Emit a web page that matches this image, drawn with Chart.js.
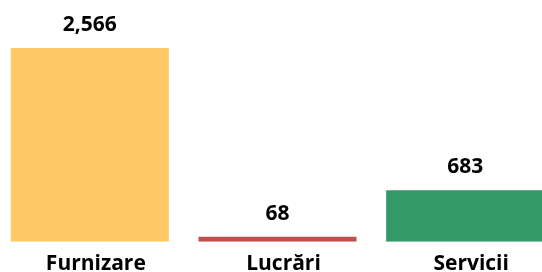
<!DOCTYPE html>
<html>
<head>
<meta charset="utf-8">
<script src="https://cdn.jsdelivr.net/npm/chart.js@4"></script>
<style>
html,body{margin:0;padding:0;background:#fff;overflow:hidden;width:542px;height:272px;}
#wrap{position:absolute;left:-4px;top:0;width:563px;height:287px;}
</style>
</head>
<body>
<div id="wrap"><canvas id="c"></canvas></div>
<script>
const categories = ["Furnizare", "Lucrări", "Servicii"];
const values = [2566, 68, 683];
const valueLabels = ["2,566", "68", "683"];
const colors = ["#FFC966", "#C0504D", "#339966"];

const FONT = "'Open Sans', sans-serif";

const valueLabelPlugin = {
  id: 'valueLabels',
  afterDatasetsDraw(chart) {
    const ctx = chart.ctx;
    const meta = chart.getDatasetMeta(0);
    ctx.save();
    ctx.font = "bold 21px " + FONT;
    ctx.fillStyle = "#000";
    ctx.textAlign = "center";
    ctx.textBaseline = "alphabetic";
    meta.data.forEach((bar, i) => {
      ctx.fillText(valueLabels[i], bar.x, bar.y - 17);
    });
    ctx.restore();
  }
};

new Chart(document.getElementById('c'), {
  type: 'bar',
  data: {
    labels: categories,
    datasets: [{
      data: values,
      backgroundColor: colors,
      borderWidth: 0,
      barPercentage: 0.842,
      categoryPercentage: 1.0
    }]
  },
  options: {
    responsive: true,
    maintainAspectRatio: false,
    animation: false,
    layout: { padding: { top: 0, bottom: 0, left: 0, right: 0 } },
    plugins: { legend: { display: false }, tooltip: { enabled: false } },
    scales: {
      y: { display: false, min: 0, max: 3200 },
      x: {
        grid: { display: false, drawTicks: false },
        border: { display: false },
        ticks: {
          color: "#000",
          font: { family: FONT, size: 21, weight: 'bold' },
          padding: 10,
          labelOffset: 6,
          maxRotation: 0
        }
      }
    }
  },
  plugins: [valueLabelPlugin]
});
</script>
</body>
</html>
